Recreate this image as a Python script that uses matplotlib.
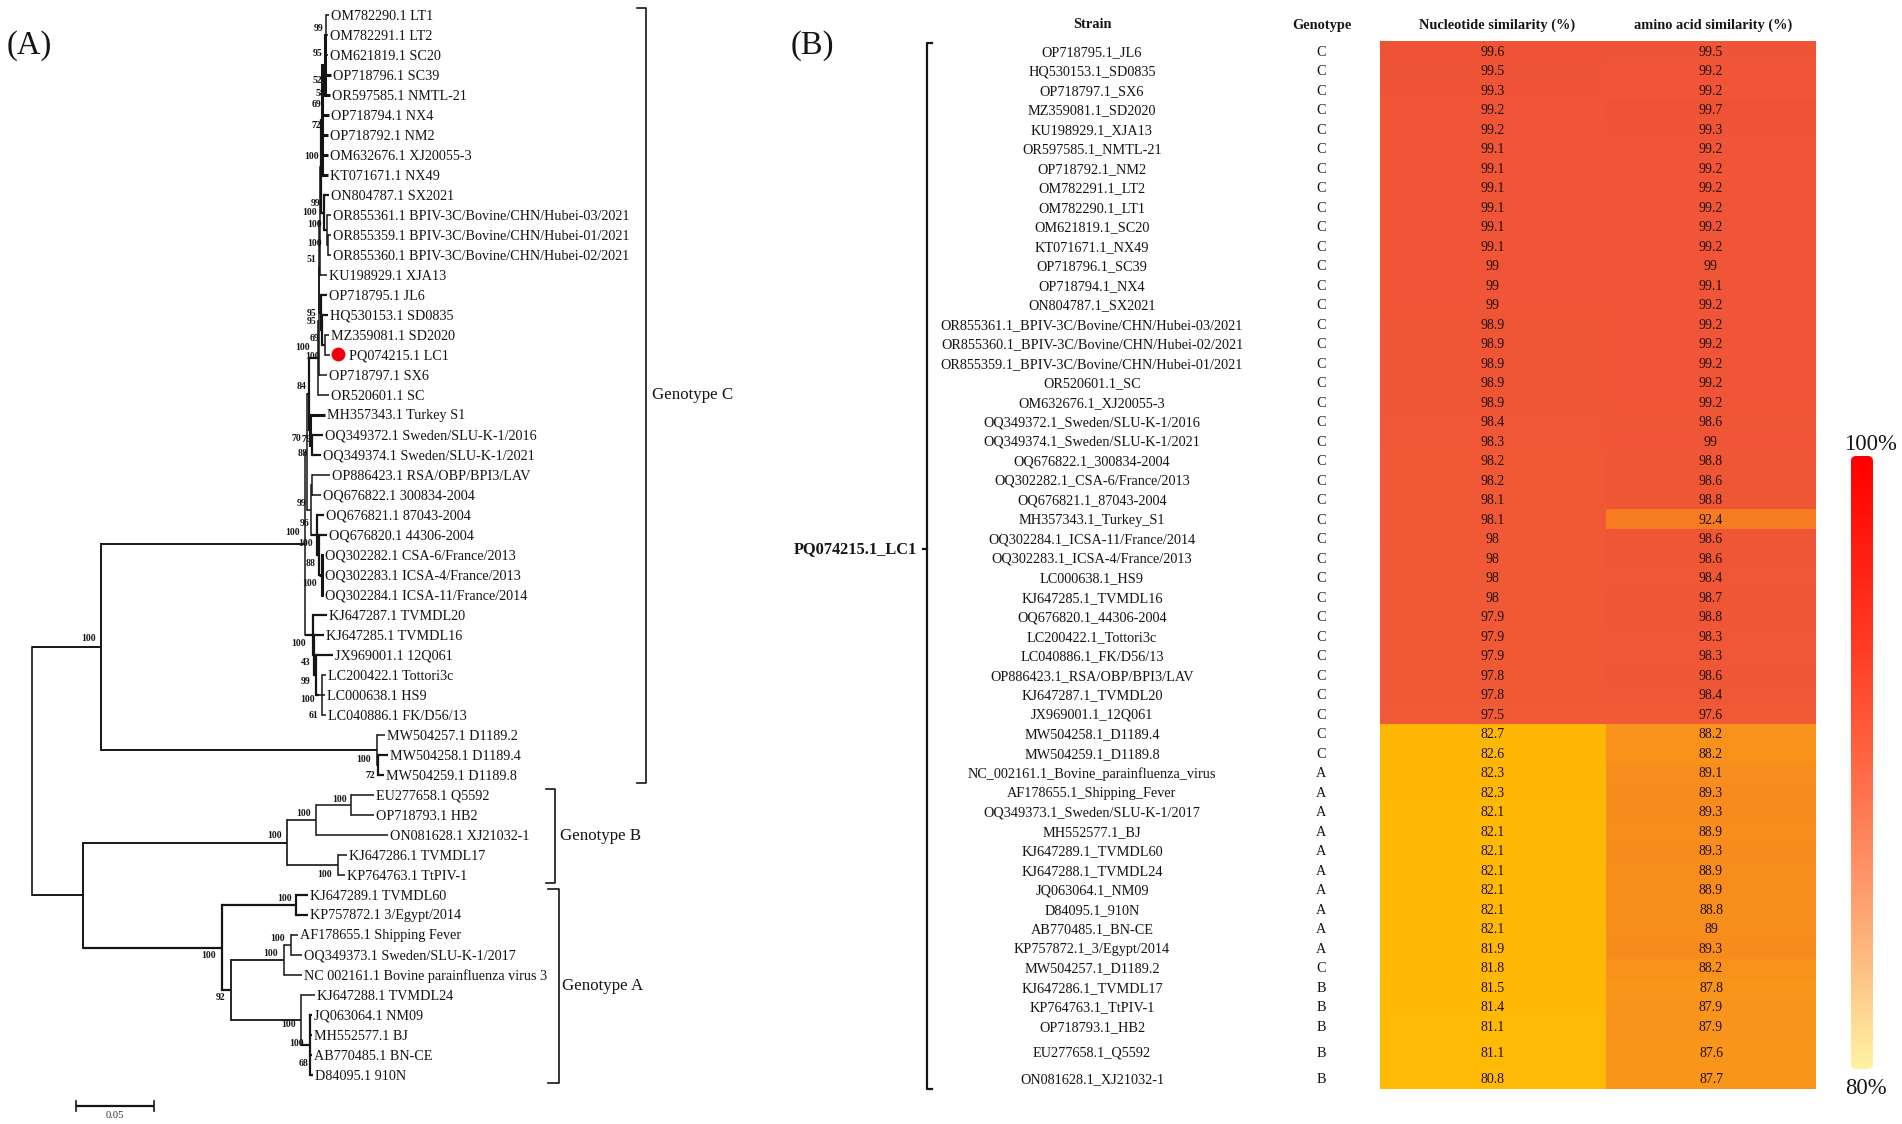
import numpy as np
import matplotlib
matplotlib.use('Agg')
import matplotlib.pyplot as plt
from matplotlib.colors import LinearSegmentedColormap
from matplotlib.patches import FancyBboxPatch

plt.rcParams['font.family'] = ['Liberation Serif', 'DejaVu Serif']

# panel A: tree tips, depth in substitutions per site (scale bar = 0.05)
tip_names = ['OM782290.1 LT1', 'OM782291.1 LT2', 'OM621819.1 SC20', 'OP718796.1 SC39', 'OR597585.1 NMTL-21',
             'OP718794.1 NX4', 'OP718792.1 NM2', 'OM632676.1 XJ20055-3', 'KT071671.1 NX49', 'ON804787.1 SX2021',
             'OR855361.1 BPIV-3C/Bovine/CHN/Hubei-03/2021', 'OR855359.1 BPIV-3C/Bovine/CHN/Hubei-01/2021',
             'OR855360.1 BPIV-3C/Bovine/CHN/Hubei-02/2021', 'KU198929.1 XJA13', 'OP718795.1 JL6',
             'HQ530153.1 SD0835', 'MZ359081.1 SD2020', 'PQ074215.1 LC1', 'OP718797.1 SX6', 'OR520601.1 SC',
             'MH357343.1 Turkey S1', 'OQ349372.1 Sweden/SLU-K-1/2016', 'OQ349374.1 Sweden/SLU-K-1/2021',
             'OP886423.1 RSA/OBP/BPI3/LAV', 'OQ676822.1 300834-2004', 'OQ676821.1 87043-2004',
             'OQ676820.1 44306-2004', 'OQ302282.1 CSA-6/France/2013', 'OQ302283.1 ICSA-4/France/2013',
             'OQ302284.1 ICSA-11/France/2014', 'KJ647287.1 TVMDL20', 'KJ647285.1 TVMDL16', 'JX969001.1 12Q061',
             'LC200422.1 Tottori3c', 'LC000638.1 HS9', 'LC040886.1 FK/D56/13', 'MW504257.1 D1189.2',
             'MW504258.1 D1189.4', 'MW504259.1 D1189.8', 'EU277658.1 Q5592', 'OP718793.1 HB2',
             'ON081628.1 XJ21032-1', 'KJ647286.1 TVMDL17', 'KP764763.1 TtPIV-1', 'KJ647289.1 TVMDL60',
             'KP757872.1 3/Egypt/2014', 'AF178655.1 Shipping Fever', 'OQ349373.1 Sweden/SLU-K-1/2017',
             'NC 002161.1 Bovine parainfluenza virus 3', 'KJ647288.1 TVMDL24', 'JQ063064.1 NM09', 'MH552577.1 BJ',
             'AB770485.1 BN-CE', 'D84095.1 910N']
tip_depth = [.18937, .18892, .18892, .19083, .19019, .18937, .18892, .18848, .18892, .18956,
             .19064, .19039, .19039, .18829, .18809, .18848, .18937, .18999, .18809, .18937,
             .18682, .18529, .18427, .18999, .18395, .18618, .18784, .18555, .18555, .18555,
             .18778, .18586, .19160, .18746, .18682, .18746, .22503, .22726, .22471, .21771,
             .21834, .22726, .20051, .19975, .17567, .17567, .16962, .17217, .17185, .18076,
             .17822, .17866, .17866, .17917]


def clade(depth, *kids, w=1.1):
    return {'depth': depth, 'kids': kids, 'w': w}


upper_c = clade(.18255,
    clade(.18268,
        clade(.18331,
            clade(.18363,
                clade(.18395,
                    clade(.18522,
                        clade(.18650, clade(.18714, 0, 1, 2), 3, 4, w=2.2),
                        5, 6, 7, 8, w=2.2),
                    clade(.18586, 9, clade(.18790, 10, clade(.18873, 11, 12)), w=1.6),
                    w=1.6),
                13),
            clade(.18427, 14, clade(.18490, 15, clade(.18682, 16, 17), w=1.6), w=1.6)),
        18),
    19)
lower_c = clade(.17726, 20, clade(.17822, 21, 22, w=1.6), w=2.2)
france = clade(.18299, 26, clade(.18510, 27, 28, 29, w=2.2), w=1.6)
mid_c = clade(.17758, clade(.17822, 23, 24), clade(.18191, 25, france, w=1.6))
kj_c = clade(.17408 + .0054,
             30,
             clade(.1800, 31,
                   clade(.1810, 32,
                         clade(.1830, clade(.1850, 33, 34, 35)), w=1.6), w=1.6), w=1.6)
geno_c = clade(.17408, clade(.17516, clade(.17662, upper_c, lower_c, w=1.6), mid_c), kj_c)
d1189 = clade(.21994, 36, clade(.22089, 37, 38, w=1.6))
geno_b = clade(.16290,
               clade(.18140, clade(.20355, 39, 40), 41),
               clade(.19510, 42, 43), w=1.2)
geno_a = clade(.12121,
               clade(.16860, 44, 45, w=1.6),
               clade(.12681,
                     clade(.16070, clade(.16490, 46, 47), 48),
                     clade(.17171, 49, clade(.17746, 50, 51, 52, 53, w=1.6)), w=1.3),
               w=1.6)
tree = clade(0, clade(.04414, geno_c, d1189, w=1.4), clade(.03242, geno_b, geno_a, w=1.4), w=1.2)

# bootstrap support labels
support_text = ['99', '95', '52', '58', '69', '72', '100', '99', '100', '100', '100', '51', '95', '95', '69',
                '100', '100', '84', '70', '79', '88', '99', '96', '100', '100', '88', '100', '100', '43', '99',
                '100', '61', '100', '100', '72', '100', '100', '100', '100', '100', '100', '100', '100', '92',
                '100', '100', '68']

# panel B: similarity table
strains = ['OP718795.1_JL6', 'HQ530153.1_SD0835', 'OP718797.1_SX6', 'MZ359081.1_SD2020', 'KU198929.1_XJA13',
           'OR597585.1_NMTL-21', 'OP718792.1_NM2', 'OM782291.1_LT2', 'OM782290.1_LT1', 'OM621819.1_SC20',
           'KT071671.1_NX49', 'OP718796.1_SC39', 'OP718794.1_NX4', 'ON804787.1_SX2021',
           'OR855361.1_BPIV-3C/Bovine/CHN/Hubei-03/2021', 'OR855360.1_BPIV-3C/Bovine/CHN/Hubei-02/2021',
           'OR855359.1_BPIV-3C/Bovine/CHN/Hubei-01/2021', 'OR520601.1_SC', 'OM632676.1_XJ20055-3',
           'OQ349372.1_Sweden/SLU-K-1/2016', 'OQ349374.1_Sweden/SLU-K-1/2021', 'OQ676822.1_300834-2004',
           'OQ302282.1_CSA-6/France/2013', 'OQ676821.1_87043-2004', 'MH357343.1_Turkey_S1',
           'OQ302284.1_ICSA-11/France/2014', 'OQ302283.1_ICSA-4/France/2013', 'LC000638.1_HS9',
           'KJ647285.1_TVMDL16', 'OQ676820.1_44306-2004', 'LC200422.1_Tottori3c', 'LC040886.1_FK/D56/13',
           'OP886423.1_RSA/OBP/BPI3/LAV', 'KJ647287.1_TVMDL20', 'JX969001.1_12Q061', 'MW504258.1_D1189.4',
           'MW504259.1_D1189.8', 'NC_002161.1_Bovine_parainfluenza_virus', 'AF178655.1_Shipping_Fever',
           'OQ349373.1_Sweden/SLU-K-1/2017', 'MH552577.1_BJ', 'KJ647289.1_TVMDL60', 'KJ647288.1_TVMDL24',
           'JQ063064.1_NM09', 'D84095.1_910N', 'AB770485.1_BN-CE', 'KP757872.1_3/Egypt/2014', 'MW504257.1_D1189.2',
           'KJ647286.1_TVMDL17', 'KP764763.1_TtPIV-1', 'OP718793.1_HB2', 'EU277658.1_Q5592', 'ON081628.1_XJ21032-1']
genotypes = list('C' * 37 + 'A' * 10 + 'C' + 'BBBBB')
nucleotide = ['99.6', '99.5', '99.3', '99.2', '99.2', '99.1', '99.1', '99.1', '99.1', '99.1', '99.1', '99', '99',
              '99', '98.9', '98.9', '98.9', '98.9', '98.9', '98.4', '98.3', '98.2', '98.2', '98.1', '98.1', '98',
              '98', '98', '98', '97.9', '97.9', '97.9', '97.8', '97.8', '97.5', '82.7', '82.6', '82.3', '82.3',
              '82.1', '82.1', '82.1', '82.1', '82.1', '82.1', '82.1', '81.9', '81.8', '81.5', '81.4', '81.1',
              '81.1', '80.8']
amino = ['99.5', '99.2', '99.2', '99.7', '99.3', '99.2', '99.2', '99.2', '99.2', '99.2', '99.2', '99', '99.1',
         '99.2', '99.2', '99.2', '99.2', '99.2', '99.2', '98.6', '99', '98.8', '98.6', '98.8', '92.4', '98.6',
         '98.6', '98.4', '98.7', '98.8', '98.3', '98.3', '98.6', '98.4', '97.6', '88.2', '88.2', '89.1', '89.3',
         '89.3', '88.9', '89.3', '88.9', '88.9', '88.8', '89', '89.3', '88.2', '87.8', '87.9', '87.9', '87.6',
         '87.7']
headers = ['Strain', 'Genotype', 'Nucleotide similarity (%)', 'amino acid similarity (%)']

fig = plt.figure(figsize=(19.02, 11.24), dpi=100)
ax = fig.add_axes([0, 0, 1, 1])
ink = '#151515'

# --- tree ---
px_per_unit = 1570.
x0 = 31.7


def tx(depth):
    return x0 + depth * px_per_unit


def draw(node, parent_x, w):
    if isinstance(node, int):
        y = 15.3 + 20 * node
        ax.plot([parent_x, tx(tip_depth[node])], [y, y], color=ink, lw=w, solid_capstyle='butt')
        return y
    x = tx(node['depth'])
    ys = [draw(k, x, node['w']) for k in node['kids']]
    y = (ys[0] + ys[-1]) / 2
    ax.plot([x, x], [ys[0], ys[-1]], color=ink, lw=node['w'], solid_capstyle='projecting')
    if node['depth'] > 0:
        ax.plot([parent_x, x], [y, y], color=ink, lw=max(w, node['w']), solid_capstyle='butt')
    return y


draw(tree, x0, 1.2)

for i, name in enumerate(tip_names):
    extra = 17 if name.startswith('PQ074215') else 0
    ax.text(tx(tip_depth[i]) + 2 + extra, 16 + 20 * i, name, fontsize=10.2, color=ink, ha='left', va='center')
ax.plot(338, 354, 'o', color='#f5000a', ms=10, mew=0)

support_xy = [(318.7, 28.3), (317.3, 53.3), (317.7, 80.7), (320, 94), (316, 104.3), (316, 126), (311.7, 156.7),
              (315.7, 204), (309.3, 212.5), (315, 224.7), (315, 243.3), (311.7, 259.3), (311.7, 313.3),
              (311.7, 321.7), (314, 338.7), (303, 347), (312.5, 356.5), (301.7, 386.7), (296.5, 438.3),
              (306, 439.3), (302.7, 454), (301.7, 503), (304.3, 523.3), (292.7, 532.3), (306, 544),
              (310.7, 563.3), (310, 583.3), (299, 643.3), (305.3, 662.7), (305.3, 681.7), (307.3, 699),
              (313.3, 715), (88.4, 638.7), (363.8, 759.3), (370.5, 775), (339.3, 799), (303.6, 813.7),
              (274.6, 836), (324.6, 874.7), (284.4, 898.3), (277.2, 938.7), (271, 953.7), (209, 955.7),
              (221, 997), (288.4, 1024.7), (296.9, 1044), (303.6, 1064)]
for s, (sx, sy) in zip(support_text, support_xy):
    ax.text(sx, sy, s, fontsize=7, fontweight='bold', color=ink, ha='center', va='center')

# scale bar
ax.plot([tx(.0281), tx(.0281 + .05)], [1105.7, 1105.7], color=ink, lw=1.6, solid_capstyle='butt')
for v in [.0281, .0781]:
    ax.plot([tx(v), tx(v)], [1101, 1110.5], color=ink, lw=1.2)
ax.text(115, 1115.5, '0.05', fontsize=7.6, color='#333333', ha='center', va='center')

# genotype brackets
ax.plot([637, 646.4, 646.4, 637], [8.3, 8.3, 782.7, 782.7], color=ink, lw=1.2)
ax.plot([545.5, 555, 555, 545.5], [789, 789, 882.7, 882.7], color=ink, lw=1.2)
ax.plot([548, 558.5, 558.5, 548], [889, 889, 1082.7, 1082.7], color=ink, lw=1.2)
ax.text(651.8, 395, 'Genotype C', fontsize=12.2, color=ink, ha='left', va='center')
ax.text(560, 836, 'Genotype B', fontsize=12.2, color=ink, ha='left', va='center')
ax.text(562.5, 986, 'Genotype A', fontsize=12.2, color=ink, ha='left', va='center')

ax.text(7, 46, '(A)', fontsize=23.5, color=ink, ha='left', va='center')
ax.text(791, 46, '(B)', fontsize=23.5, color=ink, ha='left', va='center')

# --- heat table ---
n = len(strains)
row_edges = np.r_[40.7 + 19.53 * np.arange(52), 1066, 1088.7]
text_y = np.r_[52.3 + 19.5 * np.arange(51), 1053.3, 1079.3]
col_edges = [1380, 1606, 1816]
values = np.array([[float(a), float(b)] for a, b in zip(nucleotide, amino)])
heat_cmap = LinearSegmentedColormap.from_list(
    'heat', [(0, '#ffbc05'), (.15, '#ffb606'), (.375, '#f8961a'), (.62, '#f67b21'), (.85, '#f15c36'), (1, '#ee5236')])
ax.pcolormesh(col_edges, row_edges, values, cmap=heat_cmap, vmin=80, vmax=100)

for i in range(n):
    y = text_y[i]
    ax.text(1092, y, strains[i], fontsize=10.3, color=ink, ha='center', va='center')
    ax.text(1321, y, genotypes[i], fontsize=10.3, color=ink, ha='center', va='center')
    ax.text(1492.7, y, nucleotide[i], fontsize=10, color='#201008', ha='center', va='center')
    ax.text(1711, y, amino[i], fontsize=10, color='#201008', ha='center', va='center')

for hx, h in zip([1092, 1322, 1497, 1713], headers):
    ax.text(hx, 25, h, fontsize=10.4, fontweight='bold', color=ink, ha='center', va='center')

ax.plot([932, 927, 927, 932], [42.7, 42.7, 1089, 1089], color=ink, lw=1.6)
ax.plot([923, 927], [549, 549], color=ink, lw=1.6)
ax.text(794, 549, 'PQ074215.1_LC1', fontsize=11.8, fontweight='bold', color=ink, ha='left', va='center')

# colour scale
bar_cmap = LinearSegmentedColormap.from_list(
    'bar', [(0, '#ff0000'), (.3, '#ff3a22'), (.5, '#ff6644'), (.68, '#ff9468'), (.82, '#fdbb80'), (1, '#fff3a4')])
bar = ax.imshow(np.linspace(0, 1, 256).reshape(-1, 1), cmap=bar_cmap, extent=(1851, 1873, 1069, 456),
                aspect='auto', zorder=2)
clip = FancyBboxPatch((1854, 459), 16, 607, boxstyle='round,pad=3,rounding_size=5',
                      transform=ax.transData, fc='none', ec='none')
ax.add_patch(clip)
bar.set_clip_path(clip)
ax.text(1870, 445, '100%', fontsize=16.4, color=ink, ha='center', va='center')
ax.text(1866, 1088, '80%', fontsize=16.4, color=ink, ha='center', va='center')

ax.set_xlim(0, 1902)
ax.set_ylim(1124, 0)
ax.axis('off')
fig.savefig('out.png', dpi=100, facecolor='white')
